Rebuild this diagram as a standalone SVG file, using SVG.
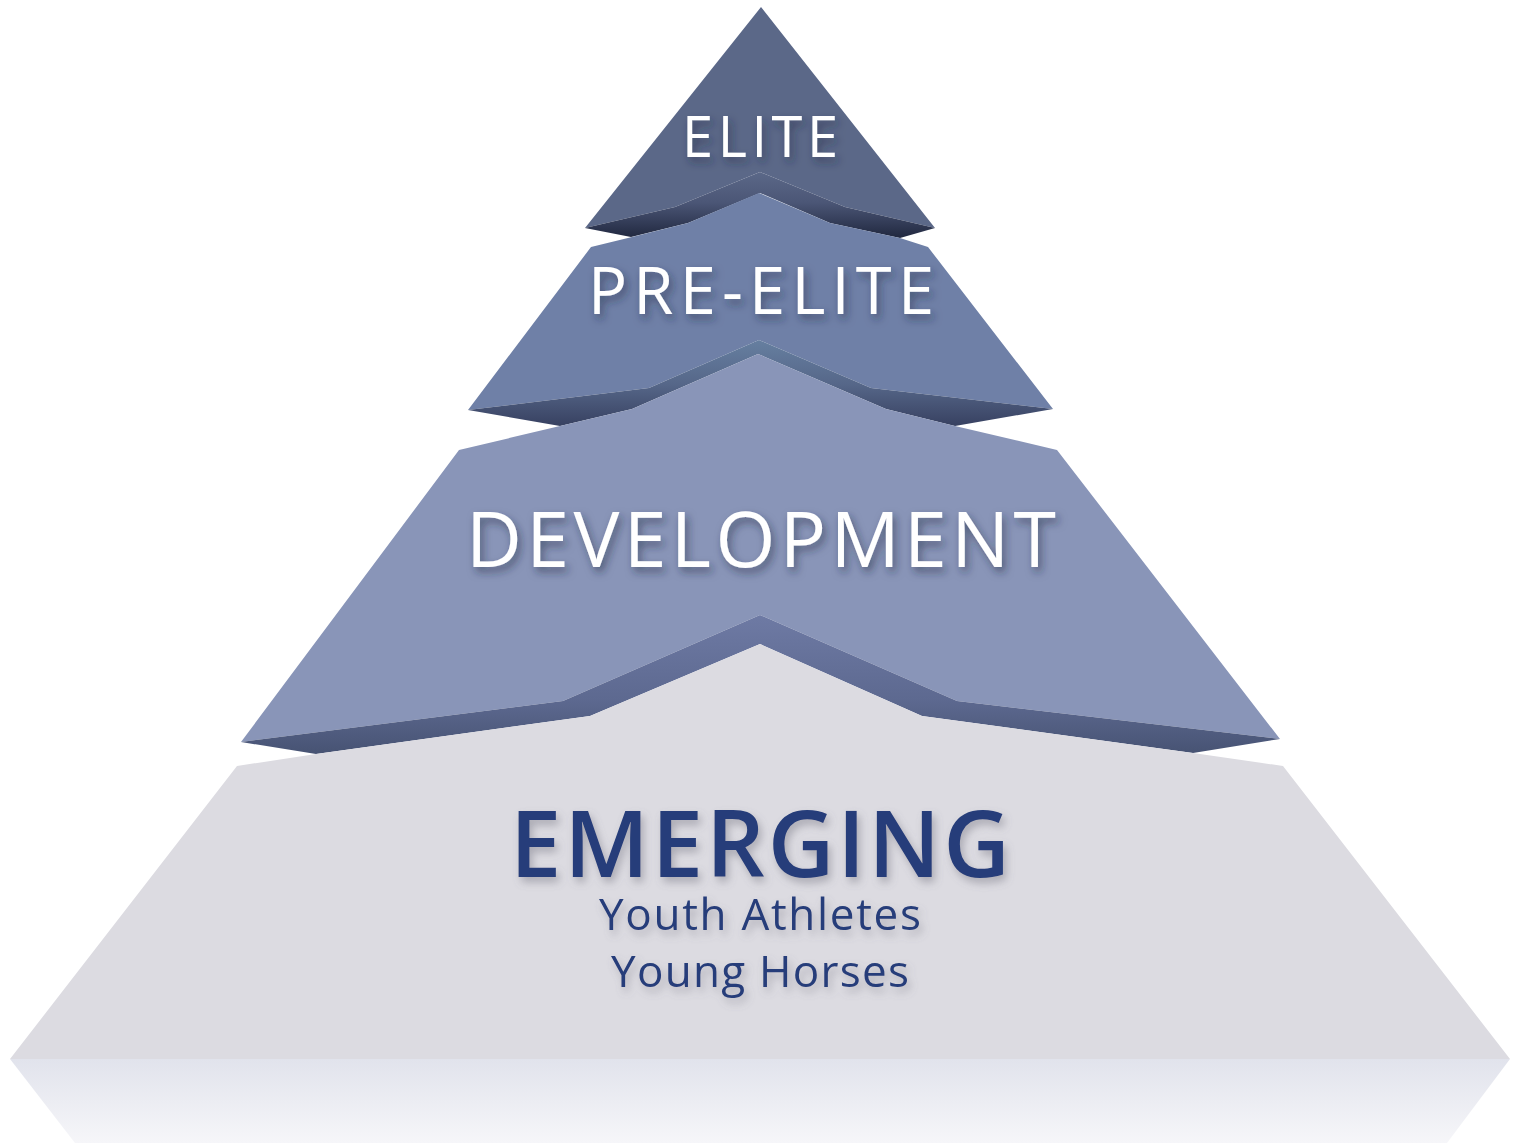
<svg xmlns="http://www.w3.org/2000/svg" width="1524" height="1143" viewBox="0 0 1524 1143">
  <defs>
    <linearGradient id="bevElite" x1="0" y1="172" x2="0" y2="240" gradientUnits="userSpaceOnUse">
      <stop offset="0" stop-color="#5b6888"/>
      <stop offset="0.45" stop-color="#4b5676"/>
      <stop offset="1" stop-color="#1e253c"/>
    </linearGradient>
    <linearGradient id="bevPre" x1="0" y1="340" x2="0" y2="428" gradientUnits="userSpaceOnUse">
      <stop offset="0" stop-color="#667fa0"/>
      <stop offset="0.5" stop-color="#566789"/>
      <stop offset="1" stop-color="#363f5f"/>
    </linearGradient>
    <linearGradient id="bevDev" x1="0" y1="615" x2="0" y2="756" gradientUnits="userSpaceOnUse">
      <stop offset="0" stop-color="#6e7aa4"/>
      <stop offset="0.6" stop-color="#5d6990"/>
      <stop offset="1" stop-color="#465272"/>
    </linearGradient>
    <linearGradient id="refl" x1="0" y1="1059" x2="0" y2="1143" gradientUnits="userSpaceOnUse">
      <stop offset="0" stop-color="#e1e3ec"/>
      <stop offset="1" stop-color="#f6f6f9"/>
    </linearGradient>
    <filter id="shW" x="-10%" y="-30%" width="120%" height="170%">
      <feDropShadow dx="3" dy="5" stdDeviation="4" flood-color="#1c2540" flood-opacity="0.55"/>
    </filter>
    <filter id="shG" x="-10%" y="-30%" width="120%" height="170%">
      <feDropShadow dx="3" dy="5" stdDeviation="4" flood-color="#6a6a78" flood-opacity="0.45"/>
    </filter>
  </defs>
  <style>
    .lbl { font-family: "Open Sans", "Noto Sans", "DejaVu Sans", sans-serif; text-anchor: middle; }
    .w { fill: #ffffff; filter: url(#shW); font-weight: 400; }
    .b { fill: #253d7a; filter: url(#shG); }
  </style>
  <rect x="0" y="0" width="1524" height="1143" fill="#ffffff"/>

  <g id="elite">
    <polygon points="761,7 935,228 845,207 760,172 675,207 585,228" fill="#5b6888"/>
    <polygon points="585,228 675,207 760,172 845,207 935,228 900,238 830,223 760,193 688,223 631,237" fill="url(#bevElite)"/>
    <text class="lbl w" x="760" y="157" font-size="56" textLength="156" lengthAdjust="spacing">ELITE</text>
  </g>

  <g id="pre-elite">
    <polygon points="591,247 632,237 688,223 759,193 830,223 900,238 928,247 1053,409 871,388 759,340 649,388 468,410" fill="#6f80a7"/>
    <polygon points="468,410 649,388 759,340 871,388 1053,409 955,426 886,409 758,354 632,409 560,426" fill="url(#bevPre)"/>
    <text class="lbl w" x="761" y="314" font-size="65" textLength="346" lengthAdjust="spacing">PRE-ELITE</text>
  </g>

  <g id="development">
    <polygon points="459,450 560,426 632,409 758,354 886,409 955,426 1057,450 1280,739 957,701 760,615 563,701 241,742" fill="#8995b8"/>
    <polygon points="241,742 563,701 760,615 957,701 1280,739 1193,753 922,716 760,644 590,716 316,754" fill="url(#bevDev)"/>
    <text class="lbl w" x="761" y="567" font-size="77" textLength="590" lengthAdjust="spacing">DEVELOPMENT</text>
  </g>

  <g id="emerging">
    <polygon points="10,1059 1510,1059 1447,1143 75,1143" fill="url(#refl)"/>
    <polygon points="237,766 316,754 590,716 760,644 922,716 1193,753 1283,766 1510,1059 10,1059" fill="#dcdbe1"/>
    <text class="lbl b" x="760" y="877" font-size="92" font-weight="600" textLength="500" lengthAdjust="spacing">EMERGING</text>
    <text class="lbl b" x="760" y="930" font-size="44" textLength="322" lengthAdjust="spacing">Youth Athletes</text>
    <text class="lbl b" x="760" y="987" font-size="44" textLength="298" lengthAdjust="spacing">Young Horses</text>
  </g>
</svg>
